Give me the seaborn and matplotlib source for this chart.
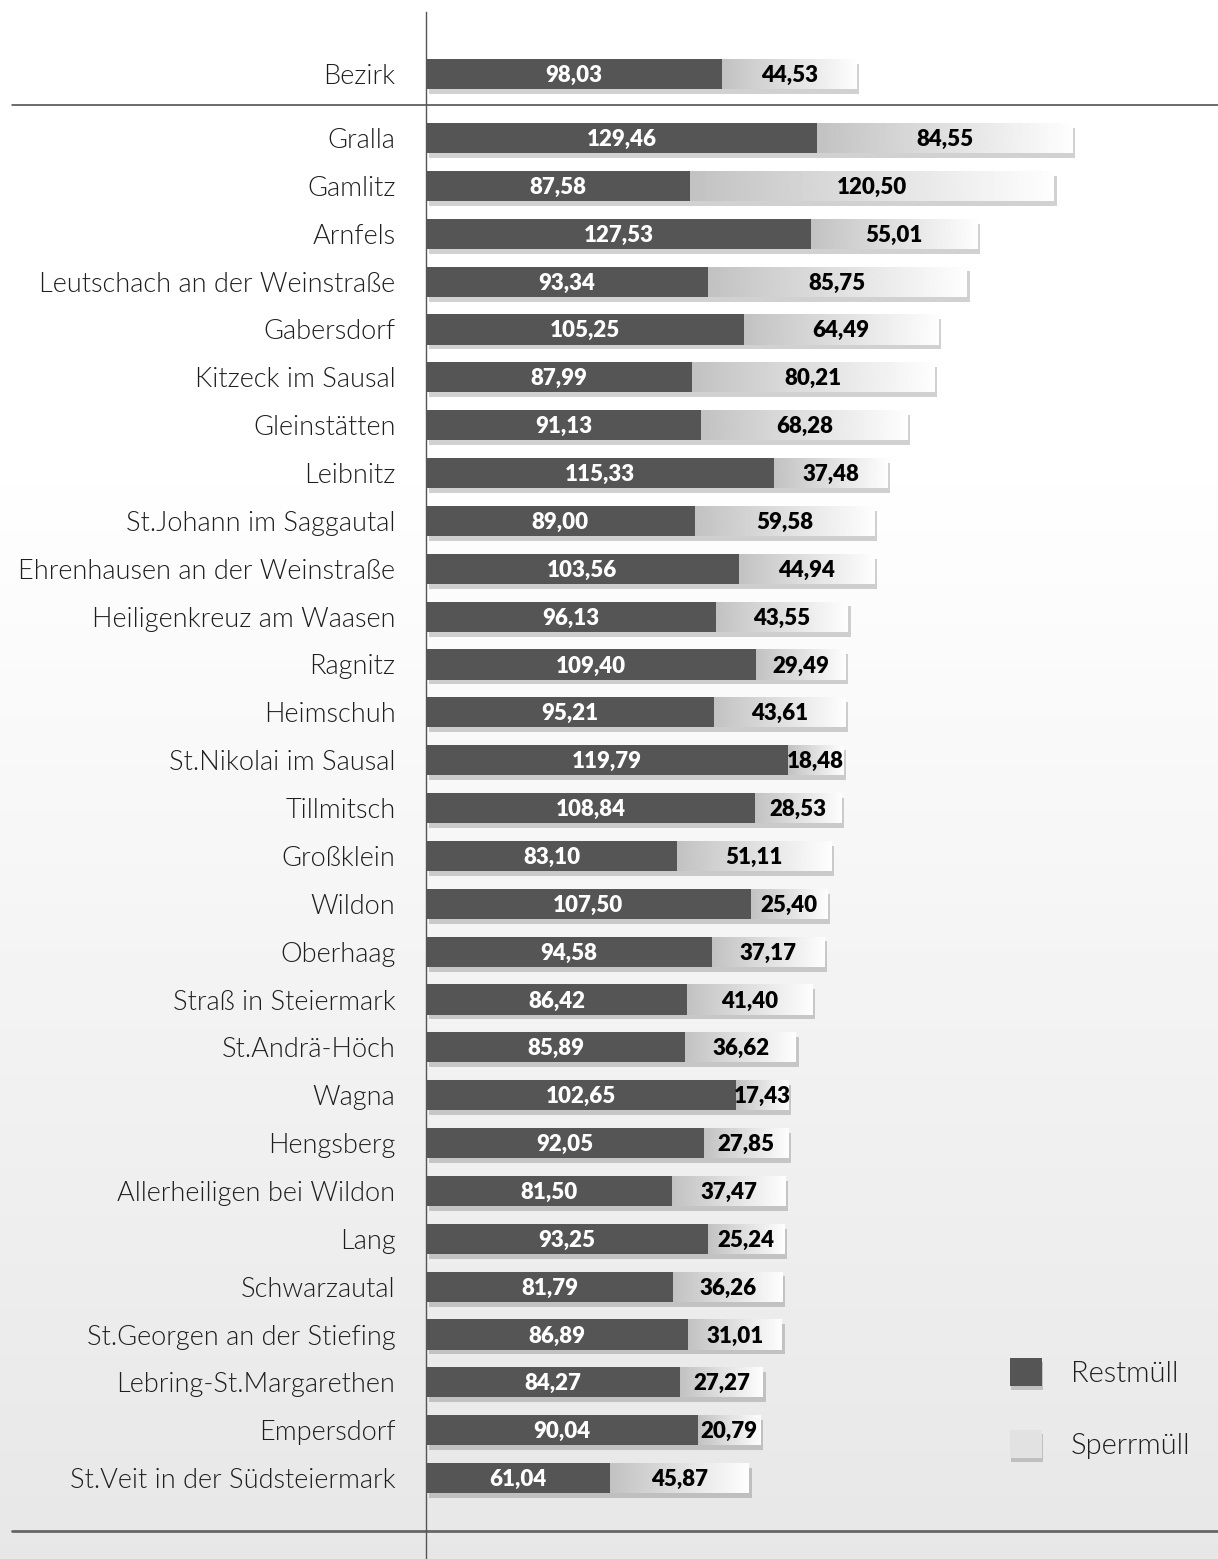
import matplotlib
matplotlib.use("Agg")
import matplotlib.pyplot as plt
import matplotlib.patheffects as pe
import matplotlib.transforms as mtransforms
from matplotlib.patches import Patch
import seaborn as sns
import numpy as np
import pandas as pd

# Data (kg per inhabitant)
bezirk_name = "Bezirk"
bezirk_rest = 98.03
bezirk_sperr = 44.53

gemeinden = [
    "Gralla", "Gamlitz", "Arnfels", "Leutschach an der Weinstraße", "Gabersdorf",
    "Kitzeck im Sausal", "Gleinstätten", "Leibnitz", "St.Johann im Saggautal",
    "Ehrenhausen an der Weinstraße", "Heiligenkreuz am Waasen", "Ragnitz", "Heimschuh",
    "St.Nikolai im Sausal", "Tillmitsch", "Großklein", "Wildon", "Oberhaag",
    "Straß in Steiermark", "St.Andrä-Höch", "Wagna", "Hengsberg",
    "Allerheiligen bei Wildon", "Lang", "Schwarzautal", "St.Georgen an der Stiefing",
    "Lebring-St.Margarethen", "Empersdorf", "St.Veit in der Südsteiermark",
]
restmuell = [
    129.46, 87.58, 127.53, 93.34, 105.25, 87.99, 91.13, 115.33, 89.00, 103.56,
    96.13, 109.40, 95.21, 119.79, 108.84, 83.10, 107.50, 94.58, 86.42, 85.89,
    102.65, 92.05, 81.50, 93.25, 81.79, 86.89, 84.27, 90.04, 61.04,
]
sperrmuell = [
    84.55, 120.50, 55.01, 85.75, 64.49, 80.21, 68.28, 37.48, 59.58, 44.94,
    43.55, 29.49, 43.61, 18.48, 28.53, 51.11, 25.40, 37.17, 41.40, 36.62,
    17.43, 27.85, 37.47, 25.24, 36.26, 31.01, 27.27, 20.79, 45.87,
]

# Style
dark = "#555555"
light = "#d2d2d2"
W, H = 1218, 1559
bar_h = 0.63
bezirk_pos = -1.34


def fmt(v):
    return ("%.2f" % v).replace(".", ",")


sns.set_theme(style="white")
plt.rcParams['font.family'] = ['Lato', 'DejaVu Sans']

names = [bezirk_name] + gemeinden
rest = [bezirk_rest] + restmuell
sperr = [bezirk_sperr] + sperrmuell
pos = [bezirk_pos] + list(range(len(gemeinden)))
df = pd.DataFrame({"name": names, "pos": pos, "rest": rest, "sperr": sperr})
df["total"] = df["rest"] + df["sperr"]

fig = plt.figure(figsize=(W / 100, H / 100), dpi=100)

# background gradient
bg = fig.add_axes([0, 0, 1, 1], zorder=-10)
grad = np.concatenate([np.ones(28), np.linspace(1.0, 0.905, 72)])
bg.imshow(grad[:, None], aspect="auto", cmap="gray", vmin=0, vmax=1,
          extent=[0, 1, 0, 1], origin="upper")
bg.axis("off")

ax = fig.add_axes([426 / W, 0, 1 - 426 / W, 1 - 12 / H])
ax.patch.set_alpha(0)

sns.barplot(data=df, x="total", y="pos", orient="h", native_scale=True,
            width=bar_h, color=light, saturation=1, errorbar=None, ax=ax)
n = len(ax.patches)
sns.barplot(data=df, x="rest", y="pos", orient="h", native_scale=True,
            width=bar_h, color=dark, saturation=1, errorbar=None, ax=ax)
tot_patches = ax.patches[:n]
rest_patches = ax.patches[n:]

shadow = [pe.SimplePatchShadow(offset=(2, -3.5), shadow_rgbFace="k", alpha=0.2), pe.Normal()]
for tp, rp in zip(tot_patches, rest_patches):
    tp.set_linewidth(0)
    rp.set_linewidth(0)
    tp.set_path_effects(shadow)
    tp.set_zorder(2)
    rp.set_zorder(3)
    x0 = rp.get_x() + rp.get_width()
    x1 = tp.get_x() + tp.get_width()
    y0 = tp.get_y()
    im = ax.imshow(np.linspace(0.76, 0.995, 256)[None, :], cmap="gray", vmin=0, vmax=1,
                   aspect="auto", extent=[x0, x1, y0 + tp.get_height(), y0], zorder=2.5)
    im.set_clip_path(tp)

# value labels
for _, r in df.iterrows():
    ax.text(r["rest"] / 2, r["pos"] + 0.03, fmt(r["rest"]), ha="center", va="center",
            color="white", fontsize=16, fontweight="heavy", zorder=5)
    ax.text(r["rest"] + r["sperr"] / 2, r["pos"] + 0.03, fmt(r["sperr"]), ha="center",
            va="center", color="black", fontsize=16, fontweight="heavy", zorder=5)

ax.set_xlim(0, (W - 426) / 3.02)
ax.set_ylim(29.69, -2.633)
ax.set_xticks([])
ax.set_yticks(pos)
ax.set_yticklabels(names, fontsize=19.5, fontweight=300, color="#1e1e1e")
ax.tick_params(axis="y", length=0, pad=22, labelcolor="#1e1e1e")
ax.set_xlabel("")
ax.set_ylabel("")
for s in ["top", "right", "bottom"]:
    ax.spines[s].set_visible(False)
ax.spines["left"].set_color("#555555")
ax.spines["left"].set_linewidth(1.0)

# separator lines
trans = mtransforms.blended_transform_factory(ax.transAxes, ax.transData)
x_left = (12 - 426) / (W - 426)
ax.plot([x_left, 1], [-0.69, -0.69], transform=trans, clip_on=False, color="#444444", lw=1.1)
ax.plot([x_left, 1], [29.1, 29.1], transform=trans, clip_on=False, color="#666666", lw=2)

# legend
handles = [Patch(facecolor=dark, edgecolor="none"), Patch(facecolor="#e2e2e2", edgecolor="none")]
leg = ax.legend(handles, ["Restmüll", "Sperrmüll"], loc="upper left",
                bbox_to_anchor=(995 / W, 1 - 1343 / H), bbox_transform=fig.transFigure,
                frameon=False, borderpad=0, handlelength=1.1, handleheight=1.1,
                handletextpad=1.0, labelspacing=1.5, prop={"size": 21, "weight": 300})
for t in leg.get_texts():
    t.set_color("#1e1e1e")
for h in leg.legend_handles:
    h.set_path_effects([pe.SimplePatchShadow(offset=(1, -3), shadow_rgbFace="k", alpha=0.2), pe.Normal()])

plt.savefig("out.png", dpi=100)
